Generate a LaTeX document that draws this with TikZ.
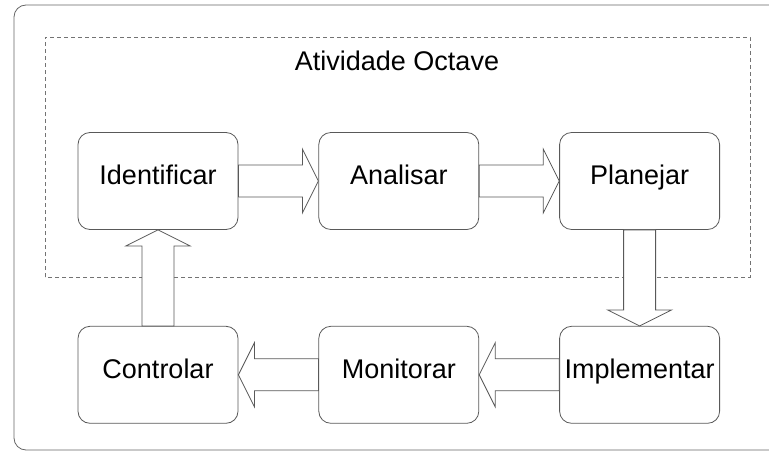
\documentclass[tikz,border=0pt]{standalone}
\usepackage{fontspec}
\setmainfont{Liberation Sans}
\usetikzlibrary{positioning,calc}

\tikzset{
  stage/.style={draw=black!65, line width=0.8pt, rounded corners=12pt,
    minimum width=160pt, minimum height=97pt, inner sep=0pt,
    text height=0.72em, text depth=0pt, font=\fontsize{27}{30}\selectfont},
  blockline/.style={draw=black!65, line width=0.8pt, fill=white}
}
\newcommand{\blockarrow}[2]{%
  \draw[blockline] let \p1=(#1), \p2=(#2),
      \n1={veclen(\x2-\x1,\y2-\y1)}, \n2={atan2(\y2-\y1,\x2-\x1)} in
    [shift={(\p1)}, rotate=\n2]
    (0pt,-16pt) -- ({\n1*1pt-16pt},-16pt) -- ({\n1*1pt-16pt},-32pt) -- ({\n1*1pt},0pt)
    -- ({\n1*1pt-16pt},32pt) -- ({\n1*1pt-16pt},16pt) -- (0pt,16pt) -- cycle;
}

\begin{document}
\begin{tikzpicture}[x=1pt,y=1pt]
\useasboundingbox (0,0) rectangle (769,451);
\draw[black!60, line width=0.8pt, rounded corners=12pt] (14,1) rectangle (800,446);
\draw[black!55, line width=0.8pt, dash pattern=on 4pt off 3pt] (45,174) rectangle (750,414);
\node[inner sep=0pt, text height=0.72em, text depth=0pt,
  font=\fontsize{27}{30}\selectfont] (title) at (397,384) {Atividade Octave};

\node[stage] (ident) at (158,270) {Identificar};
\node[stage, right=80pt of ident] (anal) {Analisar};
\node[stage, right=80pt of anal] (plan) {Planejar};
\node[stage, below=96pt of plan] (impl) {Implementar};
\node[stage, left=80pt of impl] (moni) {Monitorar};
\node[stage, left=80pt of moni] (ctrl) {Controlar};

\blockarrow{ident.east}{anal.west}
\blockarrow{anal.east}{plan.west}
\blockarrow{plan.south}{impl.north}
\blockarrow{impl.west}{moni.east}
\blockarrow{moni.west}{ctrl.east}
\blockarrow{ctrl.north}{ident.south}
\end{tikzpicture}
\end{document}
